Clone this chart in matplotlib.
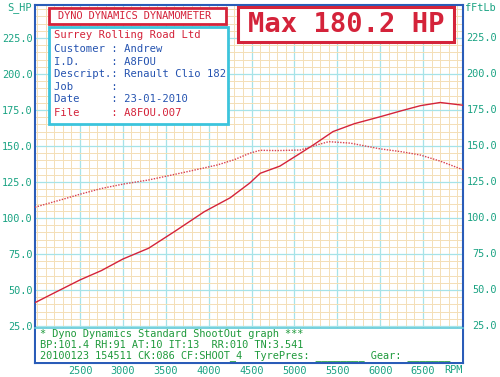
import matplotlib
matplotlib.use("Agg")
import matplotlib.pyplot as plt
import matplotlib.patches as patches
import matplotlib.transforms as mtrans
import numpy as np

# dyno run
power_rpm = [1975, 2200, 2500, 2750, 3000, 3300, 3600, 3950, 4250, 4480, 4600, 4830,
             5070, 5220, 5450, 5700, 6000, 6250, 6470, 6700, 6966]
power_hp = [41.2, 48.0, 57.0, 63.5, 71.5, 79.0, 90.5, 104.4, 114.0, 124.3, 131.0, 136.0,
            145.0, 150.7, 160.0, 165.5, 170.3, 174.5, 178.0, 180.2, 178.3]

torque_rpm = [1975, 2300, 2500, 2750, 3000, 3300, 3700, 4100, 4300, 4480, 4600, 4800,
              5070, 5250, 5400, 5650, 6000, 6250, 6470, 6700, 6966]
torque_ftlb = [107.5, 113.0, 116.5, 120.5, 123.5, 126.4, 131.5, 136.8, 140.5, 145.0, 147.0, 146.8,
               147.2, 150.5, 153.0, 152.0, 148.0, 146.0, 143.7, 139.5, 133.5]

rpm_ticks = [2500, 3000, 3500, 4000, 4500, 5000, 5500, 6000, 6500]
val_ticks = [25, 50, 75, 100, 125, 150, 175, 200, 225]

header = "DYNO DYNAMICS DYNAMOMETER"
company = "Surrey Rolling Road Ltd"
info_lines = ["Customer : Andrew",
              "I.D.     : A8FOU",
              "Descript.: Renault Clio 182",
              "Job      :",
              "Date     : 23-01-2010"]
file_line = "File     : A8FOU.007"
max_text = "Max 180.2 HP"
footer = ["* Dyno Dynamics Standard ShootOut graph ***",
          "BP:101.4 RH:91 AT:10 IT:13  RR:010 TN:3.541",
          "20100123 154511 CK:086 CF:SHOOT_4  TyrePres: ________ Gear: _______"]

W, H = 500, 377
MONO = "DejaVu Sans Mono"
TEAL = "#1aa383"
GREEN = "#1f9a3c"
RED = "#d4233a"
BLUE = "#2553b0"
FRAME = "#2a5cb8"
CYAN = "#a6e3e8"
ORANGE = "#f4dfb6"

def fx(x):
    return x / W

def fy(y):
    return 1 - y / H

fig = plt.figure(figsize=(5, 3.77), dpi=100)
fig.patch.set_facecolor("white")
ax = fig.add_axes([fx(35), fy(363), fx(463) - fx(35), fy(5) - fy(363)])

ax.plot(power_rpm, power_hp, color=RED, lw=1.0, zorder=3)
ax.plot(torque_rpm, torque_ftlb, color="#d8404f", lw=1.0, ls=(0, (1, 1)), zorder=3)

ax.set_xlim(1975, 6966)
ax.set_ylim(-0.7, 247.9)

ax.set_xticks(rpm_ticks)
ax.set_xticks(np.arange(2000, 7000, 100), minor=True)
ax.set_yticks(val_ticks)
ax.set_yticks(np.arange(0, 250, 5), minor=True)
ax.set_xticklabels([str(r) for r in rpm_ticks])
ax.set_yticklabels(["%.1f" % v for v in val_ticks])
ax.grid(which="minor", color=ORANGE, lw=0.7, zorder=0)
ax.grid(which="major", color=CYAN, lw=0.9, zorder=1)
ax.set_axisbelow(True)
ax.tick_params(which="both", length=0)
ax.tick_params(axis="y", pad=1.5, labelcolor=TEAL, labelsize=7.4)
ax.tick_params(axis="x", pad=2.5, labelcolor=TEAL, labelsize=7.4)
for lab in ax.get_xticklabels() + ax.get_yticklabels():
    lab.set_family(MONO)
for s in ax.spines.values():
    s.set_color(FRAME)
    s.set_linewidth(1.5)

# right hand torque scale
tr = mtrans.blended_transform_factory(fig.transFigure, ax.transData)
for v in val_ticks:
    ax.text(fx(497), v, "%.1f" % v, transform=tr, ha="right", va="center",
            family=MONO, fontsize=7.4, color=TEAL)
fig.text(fx(20), fy(8), "S_HP", ha="center", va="center", family=MONO, fontsize=7.4, color=TEAL)
fig.text(fx(465), fy(8), "fFtLb", ha="left", va="center", family=MONO, fontsize=7.4, color=TEAL)
fig.text(fx(453), fy(370), "RPM", ha="center", va="center", family=MONO, fontsize=7.4, color=TEAL)

# boxes
def box(x0, y0, x1, y1, ec, lw):
    r = patches.Rectangle((fx(x0), fy(y1)), fx(x1) - fx(x0), fy(y0) - fy(y1),
                          transform=fig.transFigure, facecolor="white", edgecolor=ec,
                          lw=lw, zorder=5)
    fig.add_artist(r)

box(49, 8, 226, 24, RED, 2.0)
fig.text(fx(58), fy(16), header, ha="left", va="center", family=MONO, fontsize=7.4, color=RED, zorder=6)

box(49, 27, 228, 124, "#3cc4dc", 2.0)
fig.text(fx(54), fy(35), company, ha="left", va="center", family=MONO, fontsize=7.6, color=RED, zorder=6)
for i, line in enumerate(info_lines):
    fig.text(fx(54), fy(49 + i * 12.6), line, ha="left", va="center", family=MONO,
             fontsize=7.6, color=BLUE, zorder=6)
fig.text(fx(54), fy(113), file_line, ha="left", va="center", family=MONO, fontsize=7.6, color=RED, zorder=6)

box(238, 7, 454, 42, RED, 2.2)
fig.text(fx(346), fy(25), max_text, ha="center", va="center", family=MONO, fontsize=19.5,
         weight="bold", color=RED, zorder=6)

# footer strip inside the frame
r = patches.Rectangle((fx(36), fy(362)), fx(462) - fx(36), fy(328) - fy(362),
                      transform=fig.transFigure, facecolor="white", edgecolor="none", zorder=5)
fig.add_artist(r)
fig.add_artist(plt.Line2D([fx(35), fx(463)], [fy(328), fy(328)], transform=fig.transFigure,
                          color="#5fc9d8", lw=1.2, zorder=6))
for i, line in enumerate(footer):
    fig.text(fx(40), fy(334 + i * 10.8), line, ha="left", va="center", family=MONO,
             fontsize=7.4, color=GREEN, zorder=6)

fig.savefig("out.png", dpi=100)
